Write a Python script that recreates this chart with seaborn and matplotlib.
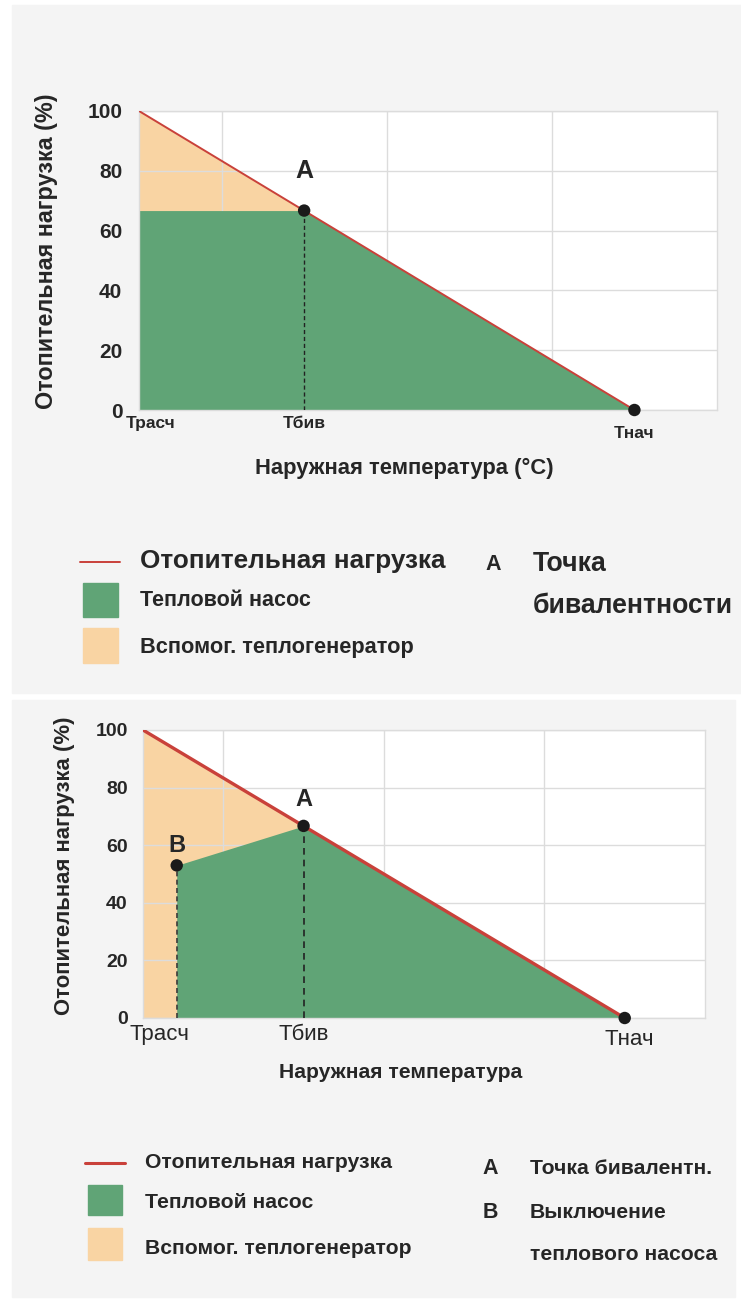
import matplotlib
matplotlib.use("Agg")
import matplotlib.pyplot as plt
import matplotlib.patches as mpatches
import matplotlib.lines as mlines
import matplotlib.transforms as mtransforms
import seaborn as sns

# ---------------- data ----------------
temp_ticks = [0, 2, 6]
temp_labels = ["Трасч", "Тбив", "Тнач"]
grid_x = [1, 3, 5]
load_ticks = [0, 20, 40, 60, 80, 100]

load_x = [0, 6]
load_y = [100, 0]

# panel 1: heat pump capped at bivalence point
hp1_x = [0, 2, 6]
hp1_y = [66.7, 66.7, 0]
# panel 2: heat pump switched off at B
hp2_x = [0.42, 2, 6]
hp2_y = [53, 66.7, 0]

aux_x = [0, 2]
aux_y = [100, 66.7]

point_a = (2, 66.7)
point_b = (0.42, 53)
point_end = (6, 0)

# ---------------- style ----------------
sns.set_theme(style="white")
plt.rcParams["font.family"] = ["Liberation Sans", "DejaVu Sans"]

W, H = 741, 1306
RED = "#c9413a"
GREEN = "#60a476"
ORANGE = "#f9d4a3"
BG = "#f4f4f4"
GRID = "#dcdcdc"
TXT = "#262626"

fig = plt.figure(figsize=(W / 100, H / 100), dpi=100, facecolor="white")


def fx(px):
    return px / W


def fy(py):
    return 1 - py / H


# grey panel backgrounds
fig.patches.append(mpatches.Rectangle((fx(12), fy(693)), fx(741) - fx(12), fy(5) - fy(693),
                                      transform=fig.transFigure, color=BG, zorder=-10))
fig.patches.append(mpatches.Rectangle((fx(12), fy(1297)), fx(735) - fx(12), fy(700) - fy(1297),
                                      transform=fig.transFigure, color=BG, zorder=-10))


def make_panel(rect, hp_x, hp_y, line_w, ytick_fs, ypad, tick_fs, tick_bold):
    ax = fig.add_axes(rect)
    ax.set_zorder(1)
    ax.set_facecolor("white")
    ax.set_xlim(0, 7)
    ax.set_ylim(0, 100)
    # orange (aux generator): everything under the load line left of Tбив
    ax.fill_between(aux_x, aux_y, 0, color=ORANGE, lw=0, zorder=1)
    # green (heat pump)
    ax.fill_between(hp_x, hp_y, 0, color=GREEN, lw=0, zorder=2)
    # grid
    for gx in grid_x:
        ax.axvline(gx, color=GRID, lw=1.0, zorder=1.5)
    for gy in load_ticks:
        ax.axhline(gy, color=GRID, lw=1.0, zorder=1.5)
    # load line
    sns.lineplot(x=load_x, y=load_y, ax=ax, color=RED, lw=line_w, zorder=4)
    ax.set_yticks(load_ticks)
    ax.set_yticklabels([str(v) for v in load_ticks], fontsize=ytick_fs, fontweight="bold", color=TXT)
    ax.set_xticks(temp_ticks)
    ax.set_xticklabels(temp_labels, fontsize=tick_fs,
                       fontweight="bold" if tick_bold else "normal", color=TXT)
    ax.tick_params(axis="both", length=0)
    ax.tick_params(axis="y", pad=ypad)
    ax.tick_params(axis="x", pad=4)
    for s in ax.spines.values():
        s.set_color(GRID)
        s.set_linewidth(1.0)
    ax.set_xlabel("")
    ax.set_ylabel("")
    return ax


# ---------------- panel 1 ----------------
ax1 = make_panel([fx(139), fy(410), 578 / W, 299 / H], hp1_x, hp1_y, 1.4, 15, 12, 12.5, True)
ax1.plot([point_a[0], point_a[0]], [0, point_a[1]], ls=(0, (3, 2)), color="#222222", lw=1.0, zorder=3)
sns.scatterplot(x=[point_a[0], point_end[0]], y=[point_a[1], point_end[1]], ax=ax1,
                color="#1a1a1a", s=80, edgecolor="none", zorder=6, clip_on=False)
ax1.text(point_a[0], 80, "A", ha="center", va="center", fontsize=18, fontweight="bold", color=TXT)
labs = ax1.get_xticklabels()
labs[0].set_transform(labs[0].get_transform() + mtransforms.ScaledTranslation(0.12, 0, fig.dpi_scale_trans))
labs[2].set_transform(labs[2].get_transform() + mtransforms.ScaledTranslation(0, -0.10, fig.dpi_scale_trans))

fig.text(fx(47), fy(251), "Отопительная нагрузка (%)", rotation=90, ha="center", va="center",
         fontsize=16.8, fontweight="bold", color=TXT)
fig.text(fx(404), fy(468), "Наружная температура (°C)", ha="center", va="center",
         fontsize=15.8, fontweight="bold", color=TXT)

# legend panel 1
fig.add_artist(mlines.Line2D([fx(80), fx(120)], [fy(562), fy(562)], color=RED, lw=1.4,
                             transform=fig.transFigure))
fig.patches.append(mpatches.Rectangle((fx(83), fy(617)), fx(118) - fx(83), fy(583) - fy(617),
                                      transform=fig.transFigure, color=GREEN))
fig.patches.append(mpatches.Rectangle((fx(83), fy(663)), fx(118) - fx(83), fy(628) - fy(663),
                                      transform=fig.transFigure, color=ORANGE))
fig.text(fx(140), fy(561), "Отопительная нагрузка", ha="left", va="center", fontsize=18.8,
         fontweight="bold", color=TXT)
fig.text(fx(140), fy(601), "Тепловой насос", ha="left", va="center", fontsize=15.5,
         fontweight="bold", color=TXT)
fig.text(fx(140), fy(647), "Вспомог. теплогенератор", ha="left", va="center", fontsize=15.7,
         fontweight="bold", color=TXT)
fig.text(fx(493), fy(565), "A", ha="center", va="center", fontsize=15.5, fontweight="bold", color=TXT)
fig.text(fx(533), fy(564), "Точка", ha="left", va="center", fontsize=19.2, fontweight="bold", color=TXT)
fig.text(fx(533), fy(606), "бивалентности", ha="left", va="center", fontsize=19.2,
         fontweight="bold", color=TXT)

# ---------------- panel 2 ----------------
ax2 = make_panel([fx(143), fy(1018), 562 / W, 288 / H], hp2_x, hp2_y, 2.4, 14, 11, 16, False)
ax2.plot([point_a[0], point_a[0]], [0, point_a[1]], ls=(0, (4, 3)), color="#222222", lw=1.2, zorder=3)
ax2.plot([point_b[0], point_b[0]], [0, point_b[1]], ls=(0, (3, 2)), color="#3a3a3a", lw=1.2, zorder=3)
sns.scatterplot(x=[point_a[0], point_b[0], point_end[0]], y=[point_a[1], point_b[1], point_end[1]],
                ax=ax2, color="#1a1a1a", s=80, edgecolor="none", zorder=6, clip_on=False)
ax2.text(point_a[0], 76, "A", ha="center", va="center", fontsize=17, fontweight="bold", color=TXT)
ax2.text(point_b[0], 60, "B", ha="center", va="center", fontsize=17, fontweight="bold", color=TXT)
labs2 = ax2.get_xticklabels()
labs2[0].set_transform(labs2[0].get_transform() + mtransforms.ScaledTranslation(0.16, 0, fig.dpi_scale_trans))
labs2[2].set_transform(labs2[2].get_transform() + mtransforms.ScaledTranslation(0.05, -0.05, fig.dpi_scale_trans))

fig.text(fx(65), fy(866), "Отопительная нагрузка (%)", rotation=90, ha="center", va="center",
         fontsize=15.9, fontweight="bold", color=TXT)
fig.text(fx(401), fy(1073), "Наружная температура", ha="center", va="center",
         fontsize=15.2, fontweight="bold", color=TXT)

# legend panel 2
fig.add_artist(mlines.Line2D([fx(85), fx(125)], [fy(1163), fy(1163)], color=RED, lw=2.2,
                             transform=fig.transFigure))
fig.patches.append(mpatches.Rectangle((fx(88), fy(1215)), fx(122) - fx(88), fy(1185) - fy(1215),
                                      transform=fig.transFigure, color=GREEN))
fig.patches.append(mpatches.Rectangle((fx(88), fy(1260)), fx(122) - fx(88), fy(1228) - fy(1260),
                                      transform=fig.transFigure, color=ORANGE))
fig.text(fx(145), fy(1162), "Отопительная нагрузка", ha="left", va="center", fontsize=15.2,
         fontweight="bold", color=TXT)
fig.text(fx(145), fy(1203), "Тепловой насос", ha="left", va="center", fontsize=15.2,
         fontweight="bold", color=TXT)
fig.text(fx(145), fy(1248), "Вспомог. теплогенератор", ha="left", va="center", fontsize=15.2,
         fontweight="bold", color=TXT)
fig.text(fx(490), fy(1168), "A", ha="center", va="center", fontsize=15.5, fontweight="bold", color=TXT)
fig.text(fx(490), fy(1212), "B", ha="center", va="center", fontsize=15.5, fontweight="bold", color=TXT)
fig.text(fx(530), fy(1168), "Точка бивалентн.", ha="left", va="center", fontsize=15.2,
         fontweight="bold", color=TXT)
fig.text(fx(530), fy(1213), "Выключение", ha="left", va="center", fontsize=15.2,
         fontweight="bold", color=TXT)
fig.text(fx(530), fy(1255), "теплового насоса", ha="left", va="center", fontsize=15.2,
         fontweight="bold", color=TXT)

fig.savefig("out.png", dpi=100, facecolor="white")
